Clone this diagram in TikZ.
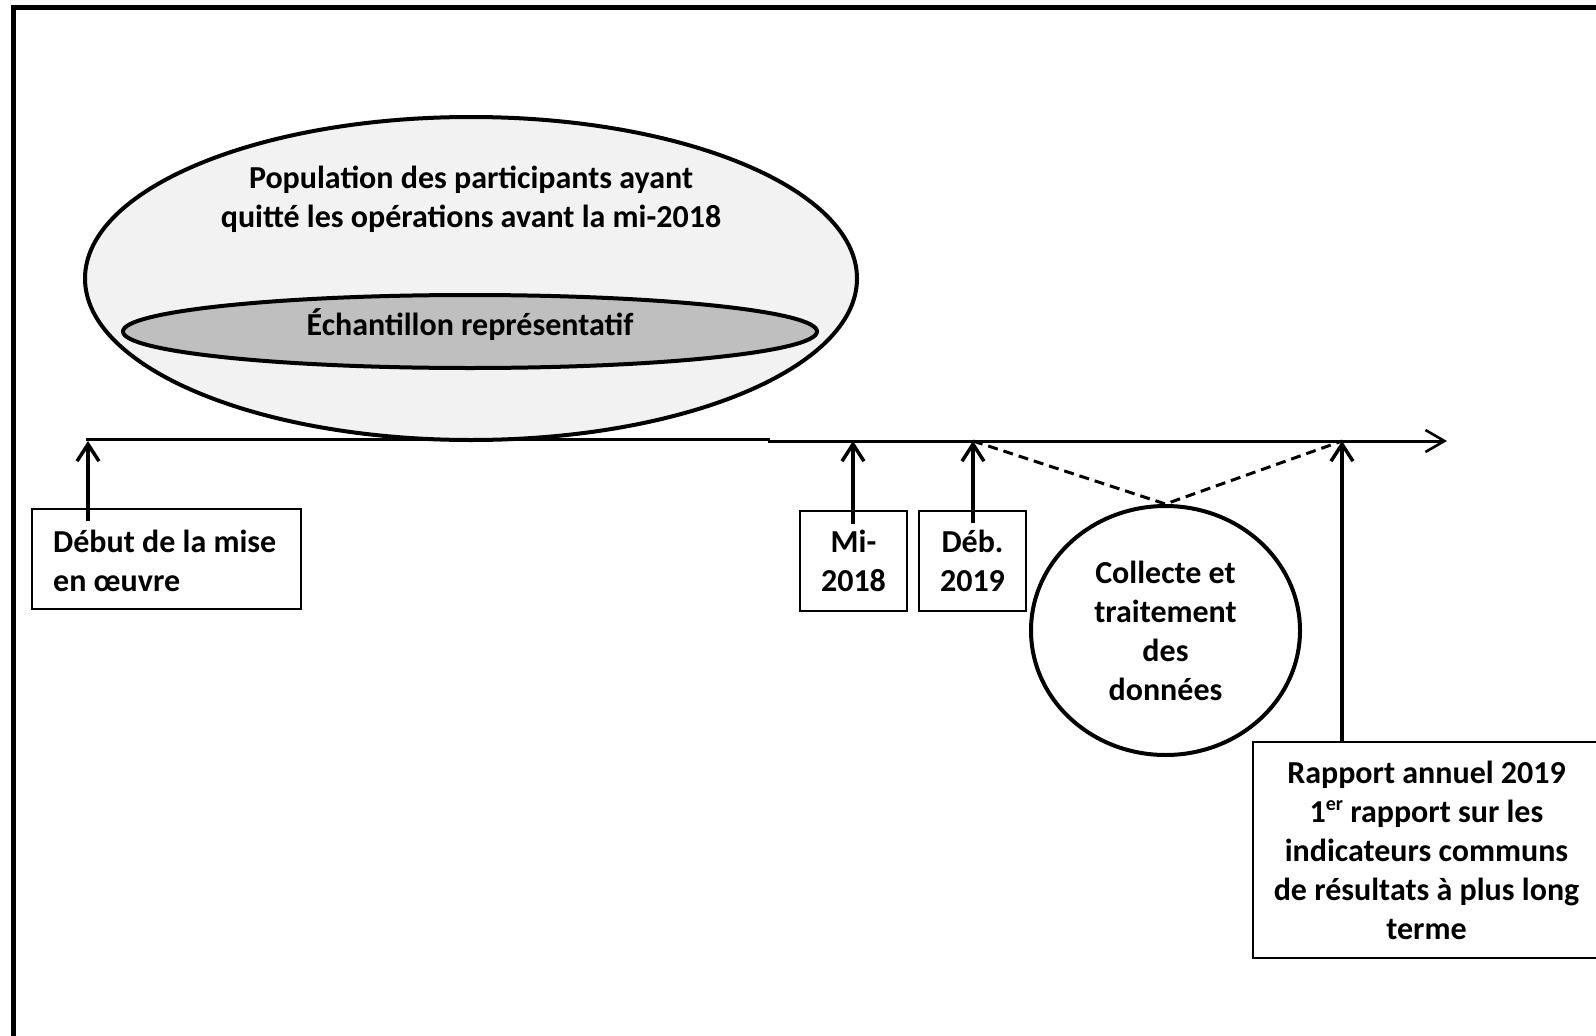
\documentclass[tikz,border=0pt]{standalone}
\usepackage{fontspec}
\setmainfont{Carlito}
\usetikzlibrary{arrows.meta,shapes.geometric}
\begin{document}
\begin{tikzpicture}[x=1pt,y=-1pt,
  every node/.style={font=\fontsize{32}{39}\selectfont\bfseries},
  lbl/.style={inner sep=0pt, align=center},
  datebox/.style={draw, line width=1.8pt, inner sep=0pt, align=center, fill=white},
  bigell/.style={draw, ellipse, line width=4pt, inner sep=0pt},
  varrow/.style={line width=3.5pt, -{Straight Barb[length=17pt,width=22pt]}},
  tline/.style={line width=3pt},
  dashlink/.style={line width=3pt, dash pattern=on 10pt off 6pt}
]
\useasboundingbox (0,0) rectangle (1596,1036);
% outer frame
\draw[line width=5pt] (13,7.5) rectangle (1620,1060);

% population ellipses
\node[bigell, fill=black!5, minimum width=772pt, minimum height=323pt] (pop) at (471,278.5) {};
\node[bigell, fill=black!25, minimum width=694pt, minimum height=73pt] (ech) at (470,331.5) {};
\node[lbl] (popt) at (471,199.5) {Population des participants ayant\\quitté les opérations avant la mi-2018};
\node[lbl] (echt) at (470,325) {Échantillon représentatif};

% timeline
\coordinate (t0) at (86,439);
\coordinate (tstep) at (768,439);
\coordinate (tstep2) at (768,441);
\coordinate (tend) at (1447,441);
\draw[tline] (t0) -- (tstep) -- (tstep2);
\draw[tline, -{Straight Barb[length=19pt,width=22pt,line width=2.6pt]}] (tstep2) -- (tend);

\coordinate (tA) at (88,441);
\coordinate (tM) at (853,441);
\coordinate (tD) at (973,441);
\coordinate (tR) at (1342,441);

% boxes
\node[datebox, minimum width=269pt, minimum height=100pt] (debut) at (166.5,559) {};
\node[lbl, anchor=west, align=left] (debutt) at (53,561) {Début de la mise\\en œuvre};
\node[datebox, minimum width=107pt, minimum height=100pt] (mi) at (853.5,561) {Mi-\\2018};
\node[datebox, minimum width=107pt, minimum height=100pt] (deb) at (972.5,561) {Déb.\\2019};
\node[bigell, minimum width=269pt, minimum height=249pt, align=center] (circ) at (1165.5,630.5) {Collecte et\\traitement\\des\\données};
\node[datebox, minimum width=347pt, minimum height=216pt] (rap) at (1426.5,850) {Rapport annuel 2019\\1\raisebox{12pt}{\fontsize{20}{20}\selectfont er} rapport sur les\\indicateurs communs\\de résultats à plus long\\terme};

% arrows
\draw[varrow] ([yshift=-13pt]debut.north -| tA) -- (tA);
\draw[varrow] ([yshift=-14pt]mi.north -| tM) -- (tM);
\draw[varrow] ([yshift=-13pt]deb.north -| tD) -- (tD);
\draw[varrow] (rap.north -| tR) -- (tR);

% dashed links
\draw[dashlink] (tD) -- (circ.north) -- (tR);
\end{tikzpicture}
\end{document}
